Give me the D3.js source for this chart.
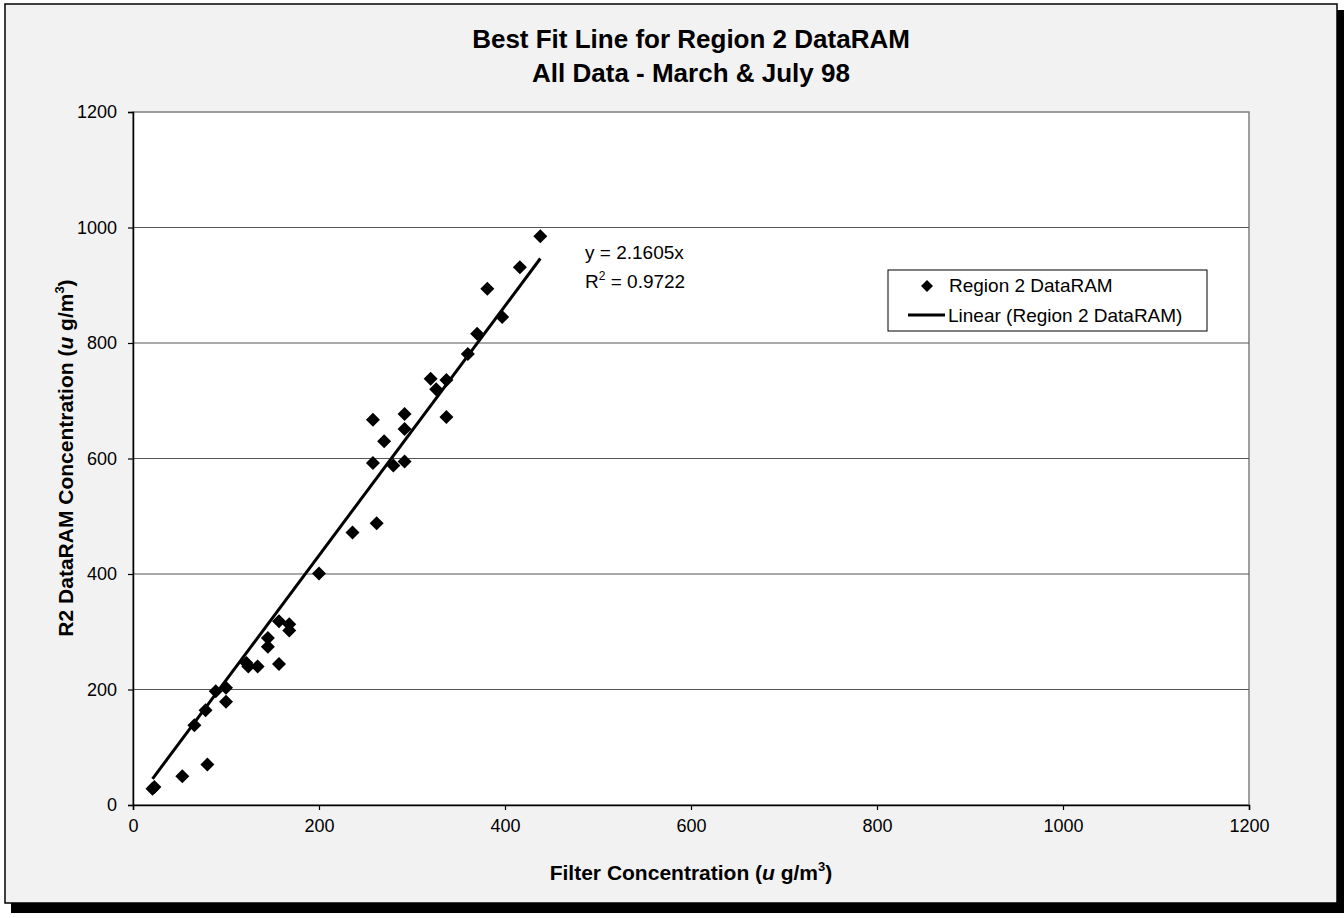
<!DOCTYPE html>
<html>
<head>
<meta charset="utf-8">
<script src="https://cdn.jsdelivr.net/npm/d3@7"></script>
<style>
  body { margin: 0; background: #fff; }
  svg text { font-family: "Liberation Sans", Arial, sans-serif; }
</style>
</head>
<body>
<div id="chart"></div>
<script>
// data
var filterConc = [21, 23, 53, 80, 66, 78, 89, 100, 100, 122, 124, 134, 157, 145, 145, 157, 168, 168,
    200, 236, 262, 258, 280, 292, 270, 292, 258, 292, 337, 320, 326, 337, 360, 370, 381, 397, 416, 438];
var dataramConc = [28, 31, 50, 70, 138, 164, 197, 203, 179, 246, 240, 240, 244, 289, 274, 318, 313, 302,
    401, 472, 488, 592, 588, 595, 630, 651, 667, 677, 672, 738, 720, 736, 781, 816, 894, 845, 931, 985];
var slope = 2.1605;
var rSquared = "0.9722";
var tickValues = [0, 200, 400, 600, 800, 1000, 1200];
var seriesName = "Region 2 DataRAM";

var svgWidth = 1344;
var svgHeight = 918;

var margin = {top: 112, right: 95, bottom: 113, left: 133};
var width = 1249 - margin.left;
var height = 805 - margin.top;

var svg = d3.select("#chart")
    .append("svg")
    .attr("width", svgWidth)
    .attr("height", svgHeight);

// frame with shadow
svg.append("rect")
    .attr("x", 11).attr("y", 10)
    .attr("width", 1333).attr("height", 903)
    .attr("fill", "#000");
svg.append("rect")
    .attr("x", 5).attr("y", 4)
    .attr("width", 1332).attr("height", 899)
    .attr("fill", "#f2f2f2")
    .attr("stroke", "#000")
    .attr("stroke-width", 1.5);

var chartGroup = svg.append("g")
    .attr("transform", `translate(${margin.left}, ${margin.top})`);

chartGroup.append("rect")
    .attr("width", width)
    .attr("height", height)
    .attr("fill", "#fff")
    .attr("stroke", "#808080")
    .attr("stroke-width", 1.5);

var xLinearScale = d3.scaleLinear().domain([0, 1200]).range([0, width]);
var yLinearScale = d3.scaleLinear().domain([0, 1200]).range([height, 0]);

// gridlines
chartGroup.selectAll(".grid")
    .data(tickValues.slice(1, -1))
    .enter()
    .append("line")
    .attr("x1", 0).attr("x2", width)
    .attr("y1", d => yLinearScale(d)).attr("y2", d => yLinearScale(d))
    .attr("stroke", "#555")
    .attr("stroke-width", 1.2);

var bottomAxis = d3.axisBottom(xLinearScale).tickValues(tickValues)
    .tickFormat(d3.format("d")).tickSize(5).tickPadding(9);
var leftAxis = d3.axisLeft(yLinearScale).tickValues(tickValues)
    .tickFormat(d3.format("d")).tickSize(5).tickPadding(11);

var xAxis = chartGroup.append("g")
    .attr("transform", `translate(0, ${height})`)
    .call(bottomAxis);
var yAxis = chartGroup.append("g")
    .call(leftAxis);

[xAxis, yAxis].forEach(function (ax) {
    ax.select(".domain").attr("stroke", "#000").attr("stroke-width", 1.5);
    ax.selectAll(".tick line").attr("stroke", "#000").attr("stroke-width", 1.2);
    ax.selectAll(".tick text")
        .attr("fill", "#000")
        .style("font-size", "18px")
        .style("font-family", "'Liberation Sans', Arial, sans-serif");
});

// trendline
var fitX = [d3.min(filterConc), d3.max(filterConc)];
chartGroup.append("line")
    .attr("x1", xLinearScale(fitX[0]))
    .attr("y1", yLinearScale(slope * fitX[0]))
    .attr("x2", xLinearScale(fitX[1]))
    .attr("y2", yLinearScale(slope * fitX[1]))
    .attr("stroke", "#000")
    .attr("stroke-width", 3);

function diamond(r) {
    return `M0,${-r}L${r},0L0,${r}L${-r},0Z`;
}

chartGroup.selectAll(".pt")
    .data(filterConc)
    .enter()
    .append("path")
    .attr("class", "pt")
    .attr("d", diamond(7))
    .attr("transform", (d, i) => `translate(${xLinearScale(d)}, ${yLinearScale(dataramConc[i])})`)
    .attr("fill", "#000");

// equation text
var eq = chartGroup.append("text")
    .attr("x", 585 - margin.left)
    .attr("y", 259 - margin.top)
    .style("font-size", "19px")
    .text(`y = ${slope}x`);
var r2 = chartGroup.append("text")
    .attr("x", 585 - margin.left)
    .attr("y", 288 - margin.top)
    .style("font-size", "19px");
r2.append("tspan").text("R");
r2.append("tspan").attr("dy", -8).style("font-size", "12px").text("2");
r2.append("tspan").attr("dy", 8).text(` = ${rSquared}`);

// legend
var legend = svg.append("g").attr("transform", "translate(888, 270)");
legend.append("rect")
    .attr("width", 319).attr("height", 61)
    .attr("fill", "#fff")
    .attr("stroke", "#000")
    .attr("stroke-width", 1);
legend.append("path")
    .attr("d", diamond(6))
    .attr("transform", "translate(39, 16)");
legend.append("text")
    .attr("x", 61).attr("y", 22)
    .style("font-size", "19px")
    .text(seriesName);
legend.append("line")
    .attr("x1", 20).attr("x2", 57)
    .attr("y1", 45).attr("y2", 45)
    .attr("stroke", "#000").attr("stroke-width", 3);
legend.append("text")
    .attr("x", 60).attr("y", 52)
    .style("font-size", "19px")
    .text(`Linear (${seriesName})`);

// titles
var title = svg.append("text")
    .attr("x", 691)
    .attr("text-anchor", "middle")
    .style("font-size", "26px")
    .style("font-weight", "bold");
title.append("tspan").attr("x", 691).attr("y", 48).text("Best Fit Line for Region 2 DataRAM");
title.append("tspan").attr("x", 691).attr("y", 82).text("All Data - March & July 98");

function unitLabel(sel, prefix) {
    sel.append("tspan").text(prefix + " (");
    sel.append("tspan").style("font-style", "italic").text("u");
    sel.append("tspan").text(" g/m");
    sel.append("tspan").attr("dy", -9).style("font-size", "13px").text("3");
    sel.append("tspan").attr("dy", 9).text(")");
}

var xLabel = svg.append("text")
    .attr("x", 691)
    .attr("y", 880)
    .attr("text-anchor", "middle")
    .style("font-size", "21px")
    .style("font-weight", "bold");
unitLabel(xLabel, "Filter Concentration");

var yLabel = svg.append("text")
    .attr("transform", "translate(73, 458) rotate(-90)")
    .attr("text-anchor", "middle")
    .style("font-size", "21px")
    .style("font-weight", "bold");
unitLabel(yLabel, "R2 DataRAM Concentration");
</script>
</body>
</html>
